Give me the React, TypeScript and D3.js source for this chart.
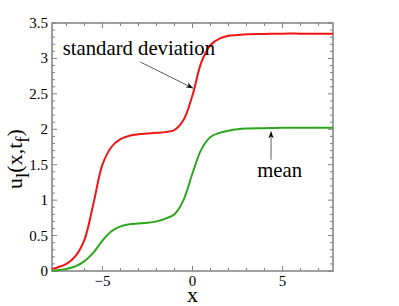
import * as d3 from "d3";

// sampled positions along x
const xs = [-7.8, -7.5, -7, -6.5, -6, -5.5, -5, -4.5, -4, -3.5, -3, -2.5, -2, -1.5, -1, -0.5, 0, 0.5, 1, 1.5, 2, 2.5, 3, 4, 5, 6, 7, 7.8];
// standard deviation (red)
const stdValues = [0.03, 0.05, 0.1, 0.21, 0.44, 0.95, 1.5, 1.75, 1.86, 1.91, 1.93, 1.94, 1.95, 1.96, 1.99, 2.13, 2.48, 2.95, 3.19, 3.28, 3.32, 3.33, 3.34, 3.345, 3.35, 3.35, 3.35, 3.35];
// mean (green)
const meanValues = [0.005, 0.01, 0.03, 0.065, 0.14, 0.26, 0.43, 0.56, 0.63, 0.66, 0.67, 0.68, 0.7, 0.74, 0.8, 1.0, 1.38, 1.72, 1.89, 1.95, 1.98, 2.0, 2.01, 2.015, 2.02, 2.02, 2.02, 2.02];

const xTicks = [-5, 0, 5];
const yTicks = [0, 0.5, 1, 1.5, 2, 2.5, 3, 3.5];

const width = 399;
const height = 306;
const margin = { top: 23, right: 66, bottom: 35, left: 52 };
const innerWidth = width - margin.left - margin.right;
const innerHeight = height - margin.top - margin.bottom;
const frameColor = "#808080";
const serif = { fontFamily: '"Liberation Serif"' };

const xScale = d3.scaleLinear().domain([-7.8, 7.8]).range([0, innerWidth]);
const yScale = d3.scaleLinear().domain([0, 3.5]).range([innerHeight, 0]);

const line = d3
  .line<[number, number]>()
  .x((d) => xScale(d[0]))
  .y((d) => yScale(d[1]))
  .curve(d3.curveCatmullRom.alpha(0.5));
const pts = (vals: number[]) => xs.map((x, i) => [x, vals[i]] as [number, number]);

// minor ticks
const xMinor = d3.range(-7, 8, 1);
const yMinor = d3.range(0, 36, 1).map((i) => i / 10);

const App = () => {
  return (
    <svg width={width} height={height} style={{ position: "absolute", left: 0, top: 0, background: "#fff" }}>
      <defs>
        <marker id="arr" viewBox="0 0 10 10" refX={10} refY={5} markerWidth={7} markerHeight={7} markerUnits="userSpaceOnUse" orient="auto">
          <path d="M0,1 L10,5 L0,9 L3,5 Z" fill="#000" />
        </marker>
      </defs>
      <g transform={`translate(${margin.left}, ${margin.top})`}>
        {/* inward ticks on all four sides */}
        <g stroke={frameColor} strokeWidth={1}>
          {xMinor.map((t) => {
            const len = xTicks.includes(t) ? 5 : 3;
            const x = xScale(t);
            return (
              <g key={`x${t}`}>
                <line x1={x} x2={x} y1={innerHeight} y2={innerHeight - len} />
                <line x1={x} x2={x} y1={0} y2={len} />
              </g>
            );
          })}
          {yMinor.map((t, i) => {
            const len = i % 5 === 0 ? 5 : 3;
            const y = yScale(t);
            return (
              <g key={`y${i}`}>
                <line x1={0} x2={len} y1={y} y2={y} />
                <line x1={innerWidth} x2={innerWidth - len} y1={y} y2={y} />
              </g>
            );
          })}
        </g>
        <rect width={innerWidth} height={innerHeight} fill="none" stroke={frameColor} strokeWidth={1.5} />

        {/* tick labels */}
        {xTicks.map((d) => (
          <text key={d} x={xScale(d)} y={innerHeight + 15} textAnchor="middle" fontSize={15} style={serif}>
            {d < 0 ? `\u2212${-d}` : `${d}`}
          </text>
        ))}
        {yTicks.map((d) => (
          <text key={d} x={-4} y={yScale(d) + 5} textAnchor="end" fontSize={15} style={serif}>
            {`${d}`}
          </text>
        ))}

        {/* curves */}
        <path d={line(pts(meanValues)) ?? ""} fill="none" stroke="#2ca61c" strokeWidth={2} />
        <path d={line(pts(stdValues)) ?? ""} fill="none" stroke="#f01414" strokeWidth={2} />

        {/* annotations */}
        <line x1={xScale(-2.9)} y1={yScale(2.95)} x2={xScale(0.03)} y2={yScale(2.58)} stroke="#333" strokeWidth={0.8} markerEnd="url(#arr)" />
        <text x={xScale(-7.2)} y={yScale(3.05)} fontSize={20.7} style={serif}>standard deviation</text>

        <line x1={xScale(4.36)} y1={yScale(1.57)} x2={xScale(4.36)} y2={yScale(1.97)} stroke="#333" strokeWidth={0.8} markerEnd="url(#arr)" />
        <text x={xScale(4.84)} y={yScale(1.33)} textAnchor="middle" fontSize={20.7} style={serif}>mean</text>
      </g>

      {/* axis labels */}
      <text x={margin.left + xScale(0)} y={302} textAnchor="middle" fontSize={22} style={serif}>x</text>
      <text transform="translate(22, 159) rotate(-90)" textAnchor="middle" fontSize={22} style={serif}>
        <tspan>u</tspan>
        <tspan dy={7} fontSize={19}>l</tspan>
        <tspan dy={-7}>(x,t</tspan>
        <tspan dy={7} fontSize={19}>f</tspan>
        <tspan dy={-7}>)</tspan>
      </text>
    </svg>
  );
};

export default App;
